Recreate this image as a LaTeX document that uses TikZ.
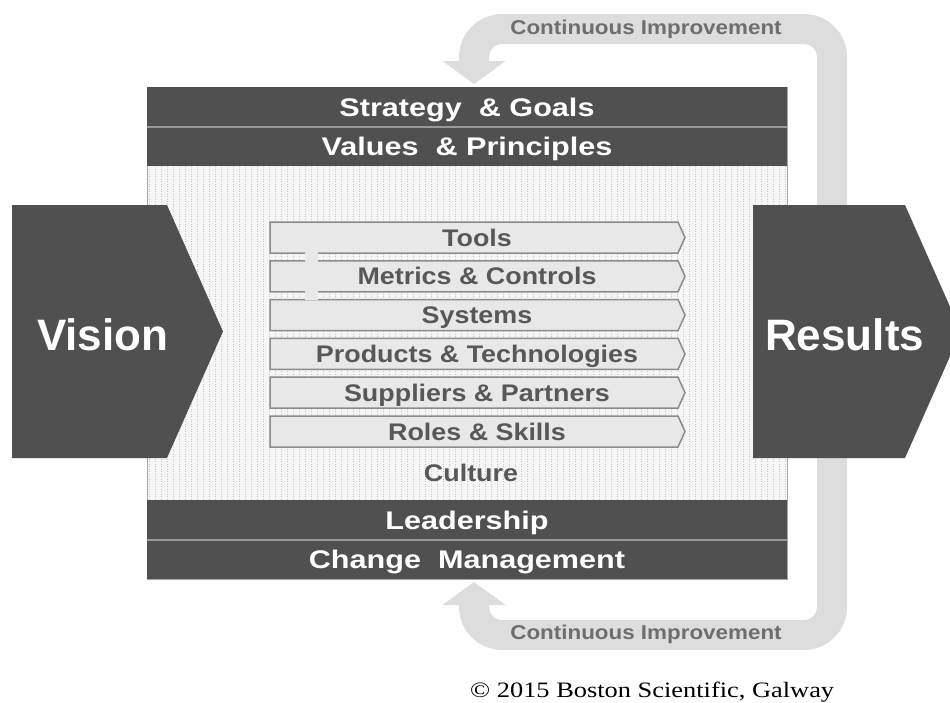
\documentclass[tikz,border=0pt]{standalone}
\usepackage{fontspec}
\setmainfont{Liberation Serif}
\newfontfamily\barfont{Liberation Sans}[FakeStretch=1.12]
\newfontfamily\wideFont{Liberation Sans}[FakeStretch=1.2]
\newfontfamily\bigfont{Liberation Sans}
\newfontfamily\notefont{Liberation Serif}[FakeStretch=1.2]
\usetikzlibrary{arrows.meta, calc, positioning}

\definecolor{darkgrey}{RGB}{80,80,80}
\definecolor{loopgrey}{RGB}{221,221,221}
\definecolor{bargrey}{RGB}{232,232,232}
\definecolor{edgegrey}{RGB}{140,140,140}
\definecolor{labelgrey}{RGB}{88,88,88}

\tikzset{
  darkbar/.style={fill=darkgrey, draw=none, minimum width=640pt, inner sep=0pt,
    text=white, text height=18pt, text depth=0pt,
    font=\wideFont\bfseries\fontsize{25.5}{25.5}\selectfont},
  innerbar/.style={fill=bargrey, draw=edgegrey, line width=1.5pt},
  innertext/.style={inner sep=0pt, text=labelgrey, text height=17pt, text depth=0pt,
    font=\barfont\bfseries\fontsize{24}{24}\selectfont},
  bigarrow/.style={fill=darkgrey, draw=none},
  bigtext/.style={inner sep=0pt, text=white, text height=32pt, text depth=0pt,
    font=\bigfont\bfseries\fontsize{44}{44}\selectfont},
  looparrow/.style={draw=loopgrey, line width=30pt, rounded corners=28pt,
    {Triangle[width=62pt,length=23pt]}-{Triangle[width=62pt,length=23pt]}},
  looptext/.style={inner sep=0pt, text={rgb,255:red,110;green,110;blue,110},
    font=\barfont\bfseries\fontsize{20}{20}\selectfont},
  dotline/.style={draw=gray!45, line width=0.7pt, dash pattern=on 1.2pt off 1.3pt},
  sepline/.style={draw=gray!80, line width=1.5pt}
}

\begin{document}
\begin{tikzpicture}[x=1pt, y=-1pt]
  \useasboundingbox (0,0) rectangle (950,702);

  % continuous improvement loop
  \coordinate (ciTop) at (474,84);
  \coordinate (ciBot) at (474,582);
  \draw[looparrow] (ciTop) -- (474,29) -- (832,29) -- (832,635) -- (474,635) -- (ciBot);
  \node[looptext] (ciTopText) at (646,29) {Continuous Improvement};
  \node[looptext] (ciBotText) at (646,634) {Continuous Improvement};

  % culture background
  \fill[gray!7] (147,166) rectangle (787,500);
  \foreach \x in {149,155,...,785}
    \draw[dotline] (\x,166) -- (\x,500);
  \draw[gray!70, line width=0.8pt] (147,87) rectangle (787,579);

  % dark bars
  \node[darkbar, minimum height=40pt] (strategy) at (467,107) {Strategy\ \ \& Goals};
  \node[darkbar, minimum height=39pt] (values) at (467,146.5) {Values\ \ \& Principles};
  \node[darkbar, minimum height=40pt] (leadership) at (467,520) {Leadership};
  \node[darkbar, minimum height=39pt] (change) at (467,559.5) {Change\ \ Management};
  \draw[sepline] (strategy.south west) -- (strategy.south east);
  \draw[sepline] (leadership.south west) -- (leadership.south east);

  % inner bars
  \foreach \lbl [count=\i] in {Tools, Metrics \& Controls, Systems,
      Products \& Technologies, Suppliers \& Partners, Roles \& Skills} {
    \pgfmathsetmacro\ytop{222+38.8*(\i-1)}
    \draw[innerbar] (270,\ytop) -- (678,\ytop) -- (685,\ytop+15.5)
      -- (678,\ytop+31) -- (270,\ytop+31) -- cycle;
    \node[innertext] (bar\i) at (477,\ytop+15.5) {\lbl};
  }
  \fill[bargrey] (304.5,251) rectangle (317.5,261.5);
  \fill[bargrey] (304.5,289.5) rectangle (317.5,300);
  \node[innertext] (culture) at (471,473) {Culture};

  % vision and results
  \fill[bigarrow] (12,205) -- (167,205) -- (223,331.5) -- (167,458) -- (12,458) -- cycle;
  \coordinate (visionLeft) at (12,334);
  \node[bigtext, right=25pt of visionLeft] (vision) {Vision};
  \fill[bigarrow] (753,205) -- (905,205) -- (961,331.5) -- (905,458) -- (753,458) -- cycle;
  \coordinate (resultsLeft) at (753,334);
  \node[bigtext, right=12pt of resultsLeft] (results) {Results};

  \node[anchor=base west, inner sep=0pt, font=\notefont\fontsize{22}{22}\selectfont]
    (copyright) at (470,697) {© 2015 Boston Scientific, Galway};
\end{tikzpicture}
\end{document}
